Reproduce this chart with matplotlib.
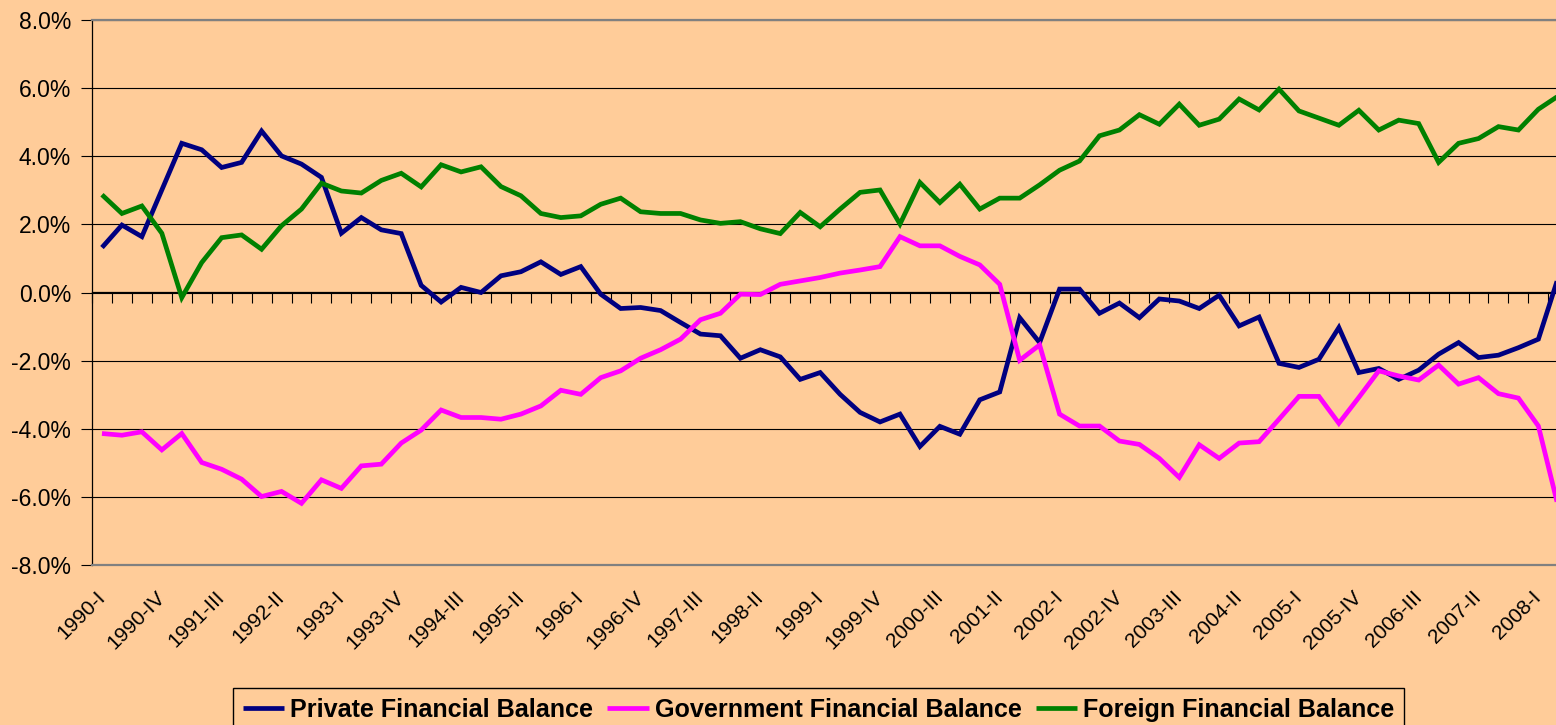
import numpy as np
import matplotlib
matplotlib.use("Agg")
import matplotlib.pyplot as plt

plt.rcParams['font.family'] = ['Liberation Sans', 'DejaVu Sans']

roman = ['I', 'II', 'III', 'IV']
quarters = [f"{y}-{r}" for y in range(1990, 2009) for r in roman][:74]

private = [1.32, 1.98, 1.64, 3.01, 4.38, 4.19, 3.67, 3.82, 4.74, 4.01,
           3.77, 3.38, 1.74, 2.20, 1.84, 1.73, 0.21, -0.28, 0.15, 0.00,
           0.49, 0.61, 0.90, 0.53, 0.76, -0.05, -0.47, -0.44, -0.53, -0.88,
           -1.22, -1.27, -1.93, -1.68, -1.89, -2.55, -2.35, -2.99, -3.52, -3.80,
           -3.57, -4.52, -3.93, -4.16, -3.15, -2.92, -0.74, -1.47, 0.10, 0.10,
           -0.61, -0.31, -0.74, -0.19, -0.25, -0.47, -0.08, -0.98, -0.72, -2.08,
           -2.20, -1.96, -1.03, -2.35, -2.23, -2.55, -2.28, -1.81, -1.47, -1.91,
           -1.84, -1.62, -1.37, 0.45]

government = [-4.14, -4.19, -4.09, -4.62, -4.14, -4.99, -5.19, -5.48, -5.99, -5.84,
              -6.19, -5.50, -5.75, -5.09, -5.04, -4.42, -4.04, -3.45, -3.67, -3.67,
              -3.72, -3.57, -3.33, -2.87, -2.99, -2.50, -2.30, -1.93, -1.68, -1.37,
              -0.80, -0.61, -0.05, -0.06, 0.24, 0.34, 0.44, 0.57, 0.66, 0.76,
              1.64, 1.37, 1.37, 1.06, 0.81, 0.24, -1.99, -1.54, -3.57, -3.92,
              -3.92, -4.36, -4.46, -4.87, -5.43, -4.47, -4.87, -4.42, -4.38, -3.72,
              -3.05, -3.05, -3.84, -3.08, -2.30, -2.45, -2.57, -2.13, -2.69, -2.50,
              -2.97, -3.10, -3.92, -6.30]

foreign = [2.87, 2.32, 2.54, 1.74, -0.15, 0.88, 1.61, 1.69, 1.27, 1.96,
           2.45, 3.21, 2.98, 2.92, 3.29, 3.50, 3.10, 3.75, 3.54, 3.69,
           3.11, 2.84, 2.32, 2.20, 2.25, 2.59, 2.77, 2.37, 2.32, 2.32,
           2.13, 2.03, 2.08, 1.87, 1.73, 2.35, 1.93, 2.45, 2.94, 3.01,
           2.01, 3.23, 2.64, 3.18, 2.45, 2.77, 2.77, 3.16, 3.59, 3.86,
           4.60, 4.77, 5.22, 4.94, 5.53, 4.91, 5.09, 5.68, 5.36, 5.97,
           5.33, 5.12, 4.91, 5.35, 4.77, 5.06, 4.96, 3.82, 4.38, 4.52,
           4.87, 4.77, 5.38, 5.77]

series_names = ['Private Financial Balance', 'Government Financial Balance',
                'Foreign Financial Balance']
series_colors = ['#000080', '#FF00FF', '#008000']

y_ticks = [-8, -6, -4, -2, 0, 2, 4, 6, 8]
tick_idx = list(range(0, 73, 3))
tick_labels = [quarters[i] for i in tick_idx]

BG = '#FFCC99'
W, H = 1556, 725
fig = plt.figure(figsize=(W / 100, H / 100), dpi=100, facecolor=BG)
left, right, top, bottom = 92, 1556, 20, 565
ax = fig.add_axes([left / W, 1 - bottom / H, (right - left) / W, (bottom - top) / H])
ax.set_facecolor(BG)

x = np.arange(len(quarters))
lines = []
for vals, name, col in zip([private, government, foreign], series_names, series_colors):
    ln, = ax.plot(x, vals, color=col, lw=3.4, label=name, solid_joinstyle='miter',
                  solid_capstyle='butt', zorder=3)
    lines.append(ln)

span = (right - left) / 19.95
ax.set_xlim(-0.5, -0.5 + span)
ax.set_ylim(-8, 8)

ax.set_yticks(y_ticks)
ax.set_yticklabels([f"{v:.1f}%" for v in y_ticks])
ax.yaxis.grid(True, color='black', lw=0.8)
ax.set_axisbelow(True)
ax.tick_params(axis='y', direction='out', length=8, width=0.8, pad=7,
               labelsize=16.5, colors='black')

ax.set_xticks(tick_idx)
ax.set_xticklabels(tick_labels, rotation=45, ha='right', va='center',
                   rotation_mode='anchor', fontsize=15)
ax.tick_params(axis='x', length=0, pad=21)

for s in ['top', 'bottom']:
    ax.spines[s].set_color('#808080')
    ax.spines[s].set_linewidth(1.6)
ax.spines['right'].set_visible(False)
ax.spines['left'].set_color('black')
ax.spines['left'].set_linewidth(0.9)

sec = ax.secondary_xaxis(0.5)
sec.set_xticks(np.arange(-0.5, len(quarters), 1.0))
sec.tick_params(direction='in', length=8, width=0.8, color='black',
                labeltop=False, labelbottom=False)
for s in ['top', 'bottom']:
    sec.spines[s].set_color('black')
    sec.spines[s].set_linewidth(0.9)

leg = fig.legend(handles=lines, labels=series_names, loc='upper left',
                 bbox_to_anchor=(233 / W, 1 - 688 / H), ncol=3, frameon=True,
                 fancybox=False, framealpha=1, facecolor=BG, edgecolor='black',
                 prop={'weight': 'bold', 'size': 18.1}, handlelength=1.65,
                 handletextpad=0.25, columnspacing=0.55, borderpad=0.38,
                 borderaxespad=0)
leg.get_frame().set_linewidth(1.0)

fig.savefig('out.png', dpi=100, facecolor=BG)
